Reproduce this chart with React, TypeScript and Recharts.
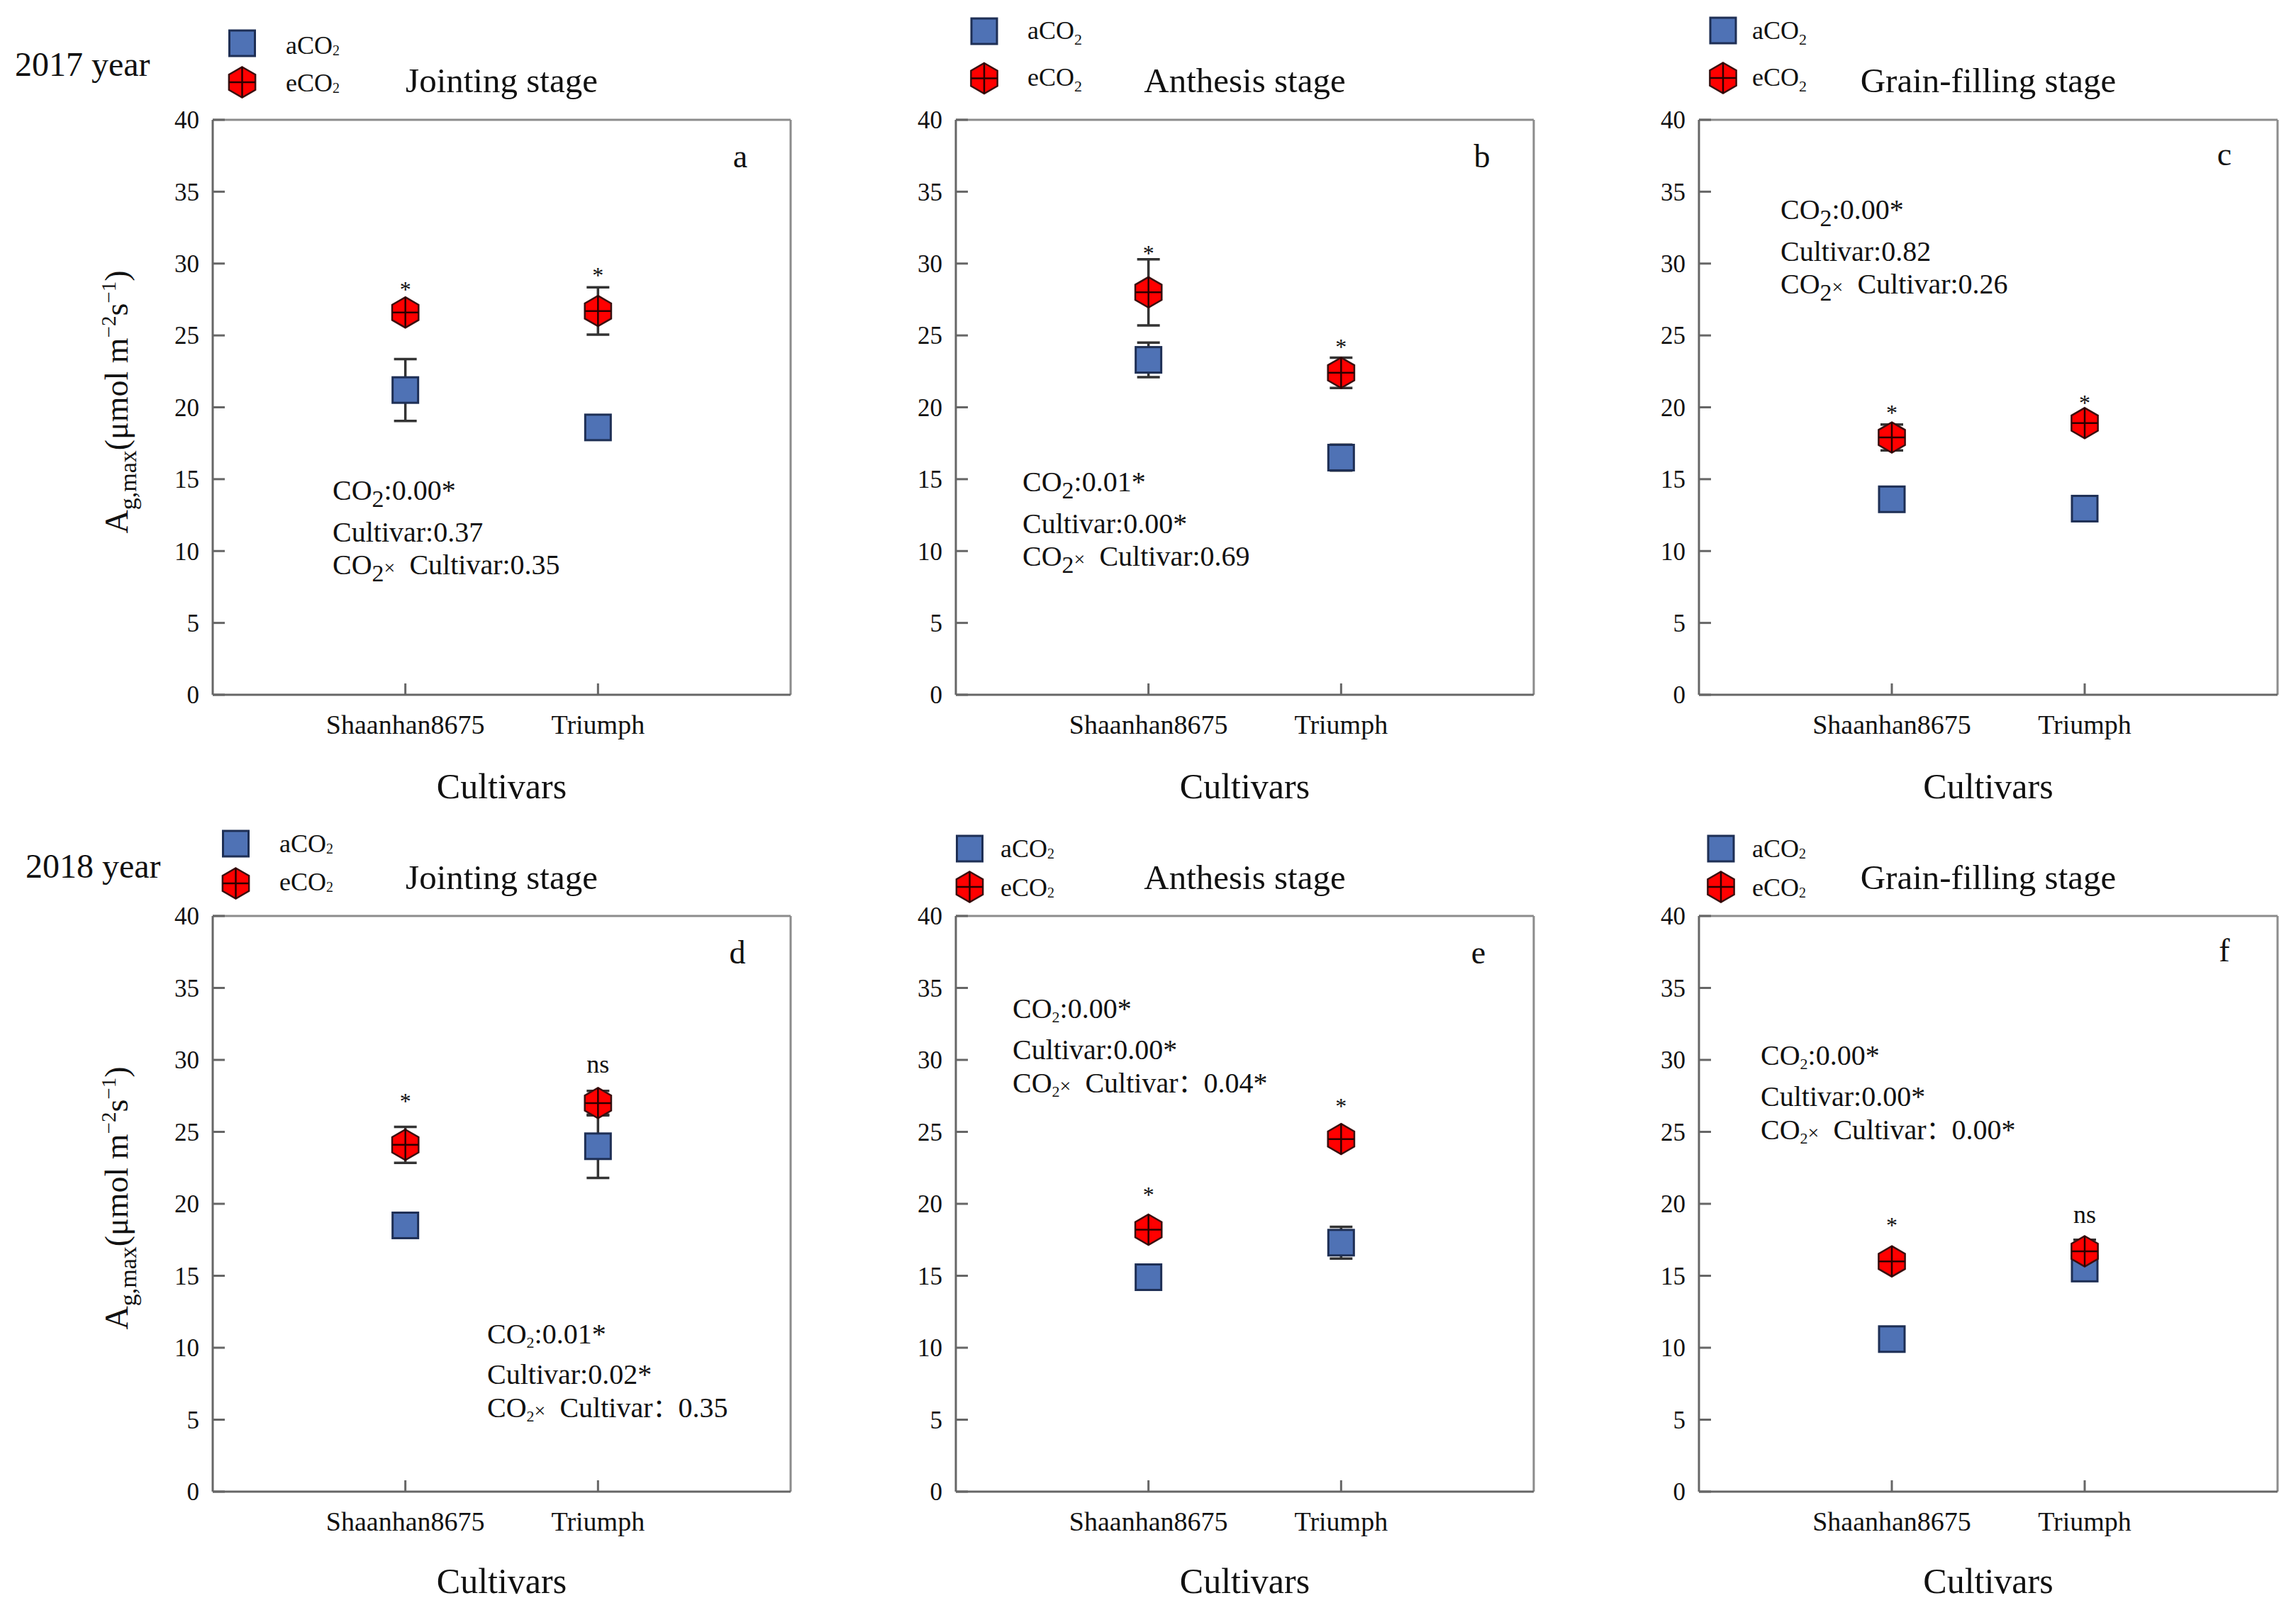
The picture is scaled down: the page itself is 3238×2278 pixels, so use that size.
import React from 'react';
import { ScatterChart, Scatter, XAxis, YAxis, ErrorBar, ReferenceLine } from 'recharts';

const FONT = '"Liberation Serif", "Times New Roman", serif';

const cultivars = ['Shaanhan8675', 'Triumph'];
const cultivarPos = [1, 2];
const yTicks = [0, 5, 10, 15, 20, 25, 30, 35, 40];

// (a) 2017 Jointing stage
const a_aCO2 = [21.2, 18.6];
const a_aCO2Err = [2.15, 0.3];
const a_eCO2 = [26.6, 26.7];
const a_eCO2Err = [0.4, 1.65];
const a_sig = ['*', '*'];
const a_sigY = [28.5, 29.5];
const a_stats = ['0.00*', '0.37', '0.35'];

// (b) 2017 Anthesis stage
const b_aCO2 = [23.3, 16.5];
const b_aCO2Err = [1.2, 0.9];
const b_eCO2 = [28.0, 22.4];
const b_eCO2Err = [2.3, 1.05];
const b_sig = ['*', '*'];
const b_sigY = [31.0, 24.5];
const b_stats = ['0.01*', '0.00*', '0.69'];

// (c) 2017 Grain-filling stage
const c_aCO2 = [13.6, 12.95];
const c_aCO2Err = [0.3, 0.3];
const c_eCO2 = [17.9, 18.9];
const c_eCO2Err = [0.9, 0.4];
const c_sig = ['*', '*'];
const c_sigY = [19.9, 20.6];
const c_stats = ['0.00*', '0.82', '0.26'];

// (d) 2018 Jointing stage
const d_aCO2 = [18.5, 24.0];
const d_aCO2Err = [0.3, 2.2];
const d_eCO2 = [24.1, 27.0];
const d_eCO2Err = [1.25, 0.85];
const d_sig = ['*', 'ns'];
const d_sigY = [27.4, 29.5];
const d_stats = ['0.01*', '0.02*', '0.35'];

// (e) 2018 Anthesis stage
const e_aCO2 = [14.9, 17.3];
const e_aCO2Err = [0.3, 1.1];
const e_eCO2 = [18.2, 24.5];
const e_eCO2Err = [0.5, 0.4];
const e_sig = ['*', '*'];
const e_sigY = [20.9, 27.1];
const e_stats = ['0.00*', '0.00*', '0.04*'];

// (f) 2018 Grain-filling stage
const f_aCO2 = [10.6, 15.5];
const f_aCO2Err = [0.3, 0.4];
const f_eCO2 = [16.0, 16.7];
const f_eCO2Err = [0.3, 0.8];
const f_sig = ['*', 'ns'];
const f_sigY = [18.8, 19.1];
const f_stats = ['0.00*', '0.00*', '0.00*'];

const stageTitles = ['Jointing stage', 'Anthesis stage', 'Grain-filling stage'];
const yearLabels = ['2017 year', '2018 year'];
const panelLetters = ['a', 'b', 'c', 'd', 'e', 'f'];

const panelData = [
  { amb: a_aCO2, ambErr: a_aCO2Err, elev: a_eCO2, elevErr: a_eCO2Err, sig: a_sig, sigY: a_sigY, stats: a_stats },
  { amb: b_aCO2, ambErr: b_aCO2Err, elev: b_eCO2, elevErr: b_eCO2Err, sig: b_sig, sigY: b_sigY, stats: b_stats },
  { amb: c_aCO2, ambErr: c_aCO2Err, elev: c_eCO2, elevErr: c_eCO2Err, sig: c_sig, sigY: c_sigY, stats: c_stats },
  { amb: d_aCO2, ambErr: d_aCO2Err, elev: d_eCO2, elevErr: d_eCO2Err, sig: d_sig, sigY: d_sigY, stats: d_stats },
  { amb: e_aCO2, ambErr: e_aCO2Err, elev: e_eCO2, elevErr: e_eCO2Err, sig: e_sig, sigY: e_sigY, stats: e_stats },
  { amb: f_aCO2, ambErr: f_aCO2Err, elev: f_eCO2, elevErr: f_eCO2Err, sig: f_sig, sigY: f_sigY, stats: f_stats },
];

// ---- layout (page pixels) ----
const cols = [
  { left: 300, width: 815 },
  { left: 1348, width: 815 },
  { left: 2396, width: 816 },
];
const rows = [
  { top: 169, height: 811 },
  { top: 1292, height: 812 },
];
const legendLayout = [
  { sx: 341.5, sy: 61, hy: 116, tx: 403, t1: 76, t2: 129, big: false },
  { sx: 1388, sy: 44, hy: 110.5, tx: 1449, t1: 55, t2: 121, big: true },
  { sx: 2430, sy: 43, hy: 110, tx: 2471, t1: 55, t2: 121, big: true },
  { sx: 332.5, sy: 1190, hy: 1246, tx: 394, t1: 1202, t2: 1256, big: false },
  { sx: 1367.5, sy: 1197, hy: 1251, tx: 1411, t1: 1209, t2: 1264, big: false },
  { sx: 2427, sy: 1197, hy: 1251, tx: 2471, t1: 1209, t2: 1264, big: false },
];
const letterLayout = [
  { x: 1044, y: 236 }, { x: 2090, y: 236 }, { x: 3137, y: 233 },
  { x: 1040, y: 1359 }, { x: 2085, y: 1359 }, { x: 3137, y: 1356 },
];
const statsLayout = [
  { x: 469, y: [705, 764, 810] },
  { x: 1442, y: [693, 752, 798] },
  { x: 2511, y: [309, 368, 414] },
  { x: 687, y: [1895, 1952, 1999] },
  { x: 1428, y: [1436, 1494, 1541] },
  { x: 2483, y: [1502, 1560, 1607] },
];
const titleBaselines = [130, 1254];
const cultivarsBaselines = [1126, 2247];
const yearLayout = [{ x: 21, y: 107 }, { x: 36, y: 1238 }];
const yLabelLayout = [{ x: 180, y: 567 }, { x: 180, y: 1690 }];

const BLUE = '#4F72B5';
const BLUE_STROKE = '#1E2F55';
const RED = '#FF0000';
const AXIS = '#666666';
const FRAME = '#8c8c8c';

const drawSquare = (cx: number, cy: number) => {
  const s = 36;
  return <rect x={cx - s / 2} y={cy - s / 2} width={s} height={s} fill={BLUE} stroke={BLUE_STROKE} strokeWidth={3} />;
};
const drawHex = (cx: number, cy: number) => {
  const r = 21.5;
  const w = (r * Math.sqrt(3)) / 2;
  const pts = [
    [cx, cy - r], [cx + w, cy - r / 2], [cx + w, cy + r / 2],
    [cx, cy + r], [cx - w, cy + r / 2], [cx - w, cy - r / 2],
  ].map((p) => p.join(',')).join(' ');
  return (
    <g>
      <polygon points={pts} fill={RED} stroke="#3a1010" strokeWidth={2.5} />
      <line x1={cx - w} x2={cx + w} y1={cy} y2={cy} stroke="#2a0000" strokeWidth={2.5} />
      <line x1={cx} x2={cx} y1={cy - r} y2={cy + r} stroke="#2a0000" strokeWidth={2.5} />
    </g>
  );
};

const SquareShape = (props: any) => {
  const { cx, cy } = props;
  if (cx == null || cy == null) return null;
  return drawSquare(cx, cy);
};
const HexShape = (props: any) => {
  const { cx, cy } = props;
  if (cx == null || cy == null) return null;
  return drawHex(cx, cy);
};
const SigShape = (props: any) => {
  const { cx, cy, payload } = props;
  if (cx == null || cy == null) return null;
  const label = payload?.label ?? '';
  const isStar = label === '*';
  const fs = isStar ? 32 : 36;
  return (
    <text x={cx} y={cy + (isStar ? 0.52 : 0.23) * fs} textAnchor="middle" fontFamily={FONT} fontSize={fs} fill="#111">
      {label}
    </text>
  );
};

const XTick = (props: any) => {
  const { x, y, payload } = props;
  const idx = cultivarPos.indexOf(payload.value);
  return (
    <g>
      <line x1={x} x2={x} y1={y} y2={y - 16} stroke={AXIS} strokeWidth={3} />
      <text x={x} y={y + 55} textAnchor="middle" fontFamily={FONT} fontSize={38} fill="#111">
        {idx >= 0 ? cultivars[idx] : ''}
      </text>
    </g>
  );
};
const YTick = (props: any) => {
  const { x, y, payload } = props;
  return (
    <g>
      <line x1={x} x2={x + 17} y1={y} y2={y} stroke={AXIS} strokeWidth={3} />
      <text x={x - 19} y={y} dy="0.35em" textAnchor="end" fontFamily={FONT} fontSize={35} fill="#111">
        {payload.value}
      </text>
    </g>
  );
};

const Panel = ({ index }: { index: number }) => {
  const p = panelData[index];
  const col = cols[index % 3];
  const row = rows[Math.floor(index / 3)];
  const amb = p.amb.map((v, i) => ({ x: cultivarPos[i], y: v, err: p.ambErr[i] }));
  const elev = p.elev.map((v, i) => ({ x: cultivarPos[i], y: v, err: p.elevErr[i] }));
  const sig = p.sigY.map((v, i) => ({ x: cultivarPos[i], y: v, label: p.sig[i] }));
  return (
    <div style={{ position: 'absolute', left: col.left - 150, top: row.top - 20 }}>
      <ScatterChart width={col.width + 170} height={row.height + 100} margin={{ top: 20, right: 20, bottom: 0, left: 0 }}>
        <XAxis
          type="number"
          dataKey="x"
          domain={[0, 3]}
          ticks={cultivarPos}
          interval={0}
          height={80}
          tickSize={0}
          tickMargin={0}
          tickLine={false}
          axisLine={{ stroke: AXIS, strokeWidth: 3 }}
          tick={(tp: any) => <XTick {...tp} />}
          allowDataOverflow
        />
        <YAxis
          type="number"
          dataKey="y"
          domain={[0, 40]}
          ticks={yTicks}
          interval={0}
          width={150}
          tickSize={0}
          tickMargin={0}
          tickLine={false}
          axisLine={{ stroke: AXIS, strokeWidth: 3 }}
          tick={(tp: any) => <YTick {...tp} />}
          allowDataOverflow
        />
        <ReferenceLine y={40} stroke={FRAME} strokeWidth={3} />
        <ReferenceLine x={3} stroke={FRAME} strokeWidth={3} />
        <Scatter data={amb} shape={SquareShape} isAnimationActive={false}>
          <ErrorBar dataKey="err" direction="y" width={16} stroke="#333" strokeWidth={3.5} isAnimationActive={false} />
        </Scatter>
        <Scatter data={elev} shape={HexShape} isAnimationActive={false}>
          <ErrorBar dataKey="err" direction="y" width={16} stroke="#333" strokeWidth={3.5} isAnimationActive={false} />
        </Scatter>
        <Scatter data={sig} shape={SigShape} isAnimationActive={false} />
      </ScatterChart>
    </div>
  );
};

const StatsText = ({ index }: { index: number }) => {
  const L = statsLayout[index];
  const s = panelData[index].stats;
  const big = index < 3;
  const fsMain = 40;
  const fs = big ? 34 : 22;
  const d = big ? 10 : 6;
  return (
    <g fontFamily={FONT} fontSize={fsMain} fill="#111">
      <text x={L.x} y={L.y[0]}>
        CO<tspan fontSize={fs} dy={d}>2</tspan>
        <tspan dy={-d}>{':' + s[0]}</tspan>
      </text>
      <text x={L.x} y={L.y[1]}>{'Cultivar:' + s[1]}</text>
      {big ? (
        <text x={L.x} y={L.y[2]}>
          CO<tspan fontSize={fs} dy={d}>2</tspan>
          <tspan dy={-d} fontSize={28}>{'\u00D7'}</tspan>
          <tspan>{' \u00A0Cultivar:' + s[2]}</tspan>
        </text>
      ) : (
        <text x={L.x} y={L.y[2]}>
          CO<tspan fontSize={fs} dy={d}>2</tspan>
          <tspan dy={-d} fontSize={28}>{'\u00D7'}</tspan>
          <tspan>{' \u00A0Cultivar'}</tspan>
          <tspan fontFamily='"Noto Sans CJK SC"' fontSize={36}>{'\uFF1A'}</tspan>
          <tspan>{s[2]}</tspan>
        </text>
      )}
    </g>
  );
};

const LegendBlock = ({ index }: { index: number }) => {
  const L = legendLayout[index];
  const fsMain = 36;
  const fs = L.big ? 22 : 20;
  const d = L.big ? 8 : 2;
  return (
    <g fontFamily={FONT} fontSize={fsMain} fill="#111">
      {drawSquare(L.sx, L.sy)}
      {drawHex(L.sx, L.hy)}
      <text x={L.tx} y={L.t1}>
        aCO<tspan fontSize={fs} dy={d}>2</tspan>
      </text>
      <text x={L.tx} y={L.t2}>
        eCO<tspan fontSize={fs} dy={d}>2</tspan>
      </text>
    </g>
  );
};

const YLabel = ({ r }: { r: number }) => {
  const L = yLabelLayout[r];
  return (
    <text
      x={L.x}
      y={L.y}
      textAnchor="middle"
      transform={`rotate(-90 ${L.x} ${L.y})`}
      fontFamily={FONT}
      fontSize={46}
      fill="#111"
    >
      A<tspan fontSize={34} dy={12}>g,max</tspan>
      <tspan dy={-12}>(μmol m</tspan>
      <tspan fontSize={29} dy={-17}>−2</tspan>
      <tspan dy={17}>s</tspan>
      <tspan fontSize={29} dy={-17}>−1</tspan>
      <tspan dy={17}>)</tspan>
    </text>
  );
};

const Overlay = () => (
  <svg
    width={3238}
    height={2278}
    style={{ position: 'absolute', left: 0, top: 0, pointerEvents: 'none' }}
  >
    {yearLabels.map((t, r) => (
      <text key={t} x={yearLayout[r].x} y={yearLayout[r].y} fontFamily={FONT} fontSize={48} fill="#111">
        {t}
      </text>
    ))}
    {[0, 1].map((r) =>
      stageTitles.map((t, c) => (
        <text
          key={`t${r}${c}`}
          x={cols[c].left + cols[c].width / 2}
          y={titleBaselines[r]}
          textAnchor="middle"
          fontFamily={FONT}
          fontSize={49}
          fill="#111"
        >
          {t}
        </text>
      ))
    )}
    {[0, 1].map((r) =>
      cols.map((c, ci) => (
        <text
          key={`c${r}${ci}`}
          x={c.left + c.width / 2}
          y={cultivarsBaselines[r]}
          textAnchor="middle"
          fontFamily={FONT}
          fontSize={50}
          fill="#111"
        >
          Cultivars
        </text>
      ))
    )}
    {panelLetters.map((l, i) => (
      <text key={l} x={letterLayout[i].x} y={letterLayout[i].y} textAnchor="middle" fontFamily={FONT} fontSize={46} fill="#111">
        {l}
      </text>
    ))}
    {panelLetters.map((l, i) => (
      <LegendBlock key={`lg${l}`} index={i} />
    ))}
    {panelLetters.map((l, i) => (
      <StatsText key={`st${l}`} index={i} />
    ))}
    <YLabel r={0} />
    <YLabel r={1} />
  </svg>
);

export default function App() {
  return (
    <div style={{ position: 'absolute', left: 0, top: 0, width: 3238, height: 2278, background: '#fff', overflow: 'hidden' }}>
      {panelLetters.map((l, i) => (
        <Panel key={l} index={i} />
      ))}
      <Overlay />
    </div>
  );
}
